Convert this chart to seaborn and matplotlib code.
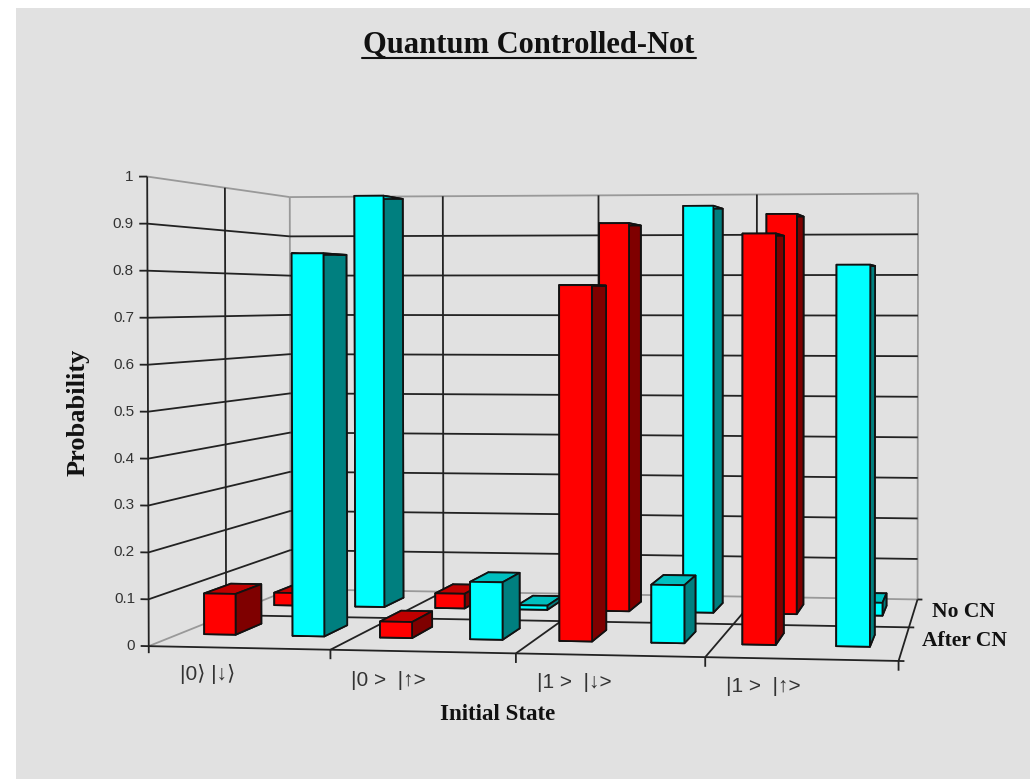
import numpy as np
import matplotlib
matplotlib.use("Agg")
import matplotlib.pyplot as plt
from matplotlib.lines import Line2D
from matplotlib.patches import Rectangle
from mpl_toolkits.mplot3d import proj3d
from mpl_toolkits.mplot3d.art3d import Line3DCollection
import seaborn as sns

# ---------- data ----------
categories = ["|0⟩ |↓⟩", "|0 >  |↑>", "|1 >  |↓>", "|1 >  |↑>"]
rows = ["After CN", "No CN"]
red_after = [0.09, 0.035, 0.77, 0.88]
cyan_after = [0.84, 0.125, 0.125, 0.813]
red_no = [0.03, 0.035, 0.92, 0.94]
cyan_no = [0.988, 0.01, 0.96, 0.03]
z_ticks = [0, 0.1, 0.2, 0.3, 0.4, 0.5, 0.6, 0.7, 0.8, 0.9, 1]

# ---------- style ----------
sns.set_theme(style="white")
BG = "#E1E1E1"
RED = ("#FF0000", "#C00000", "#7F0000")
CYAN = ("#00FFFF", "#00BFBF", "#007F7F")
DARK = "#222222"
GREY = "#999999"
SERIF = "Liberation Serif"
SANS = ["Liberation Sans", "DejaVu Sans"]

# ---------- camera: world (category, row, probability) -> picture ----------
anchors = [((0, 0, 0), (150, 645)), ((1, 0, 0), (331, 650)), ((2, 0, 0), (515, 654)),
           ((3, 0, 0), (705, 658)), ((4, 0, 0), (898, 662)),
           ((0, 2, 0), (290, 590)), ((1, 2, 0), (442, 592)), ((2, 2, 0), (600, 594)),
           ((3, 2, 0), (757, 596)), ((4, 2, 0), (918, 598)),
           ((0, 0, 1), (147, 175)), ((0, 2, 1), (290, 198)),
           ((4, 2, 1), (918, 194))]
A, b = [], []
for (x, y, z), (u, v) in anchors:
    A.append([x, y, z, 1, 0, 0, 0, 0, -u * x, -u * y, -u * z])
    b.append(u)
    A.append([0, 0, 0, 0, x, y, z, 1, -v * x, -v * y, -v * z])
    b.append(v)
p = np.linalg.lstsq(np.array(A, float), np.array(b, float), rcond=None)[0]
M = np.array([[p[0], p[1], p[2], p[3]],
              [p[4], p[5], p[6], p[7]],
              [0, 0, 0, -1.0],
              [p[8], p[9], p[10], 1.0]])

fig = plt.figure(figsize=(10.3, 7.79), dpi=100, facecolor="white")
fig.patches.append(Rectangle((16 / 1030, 0), 1, 771 / 779, transform=fig.transFigure,
                             facecolor=BG, edgecolor="none", zorder=-5))
ax = fig.add_axes([0, 0, 1, 1], projection="3d", computed_zorder=False)
ax.set_xticks([])
ax.set_yticks([])
ax.set_zticks([])
ax.set_axis_off()
for axis in (ax.xaxis, ax.yaxis, ax.zaxis):
    axis.set_visible(False)
ax.patch.set_visible(False)
ax.apply_aspect = lambda *a, **k: None
ax.get_proj = lambda: M
ax.viewLim.intervalx = (0, 1030)
ax.viewLim.intervaly = (779, 0)

dark_segs, grey_segs = [], []


def seg(x, y, z, grey=False):
    (grey_segs if grey else dark_segs).append(list(zip(x, y, z)))


# walls and floor
for t in z_ticks:
    seg([-0.045, 0], [0, 0], [t, t])
    seg([0, 0], [0, 2], [t, t], t == 1 or t == 0)
    seg([0, 4], [2, 2], [t, t], t == 1 or t == 0)
seg([0, 0], [0, 0], [-0.015, 1])
seg([0, 0], [1, 1], [0, 1])
seg([0, 0], [2, 2], [0, 1], True)
seg([4, 4], [2, 2], [0, 1], True)
for i in range(1, 4):
    seg([i, i], [2, 2], [0, 1])
seg([0, 4], [0, 0], [0, 0])
seg([0, 4], [1, 1], [0, 0])
for i in range(1, 5):
    seg([i, i], [0, 2], [0, 0])
for i in range(1, 5):
    seg([i, i], [0, 0], [0, -0.02])
for j in (0, 1, 2):
    seg([4, 4.03], [j, j], [0, 0])
ax.add_collection3d(Line3DCollection(grey_segs, colors=GREY, linewidths=1.3, zorder=1))
ax.add_collection3d(Line3DCollection(dark_segs, colors=DARK, linewidths=1.3, zorder=1))

# bars
BAR_W = 0.18
BAR_D = 0.36
ROW_Y = 0.38
RED_X = 0.14
CYAN_X = 0.645


def bar(i, row, off, h, cols, order):
    ax.bar3d(i + off, row + ROW_Y, 0, BAR_W, BAR_D, h,
             color=[cols[1], cols[1], cols[0], cols[0], cols[2], cols[2]],
             edgecolor="#111111", linewidth=1.3, shade=False, zorder=order)


for i in range(len(categories)):
    base = 2 + 10 * i
    bar(i, 1, RED_X, red_no[i], RED, base)
    bar(i, 1, CYAN_X, cyan_no[i], CYAN, base + 1)
for i in range(len(categories)):
    base = 100 + 10 * i
    bar(i, 0, RED_X, red_after[i], RED, base)
    bar(i, 0, CYAN_X, cyan_after[i], CYAN, base + 1)

# tick labels: the camera gives each label's place on the picture
for t in z_ticks:
    u, v, _ = proj3d.proj_transform(-0.075, 0, t, M)
    fig.text(u / 1030, 1 - v / 779, f"{t:g}", ha="right", va="center", fontsize=11,
             family=SANS, color="#333333")
cat_pos = [(208, 674), (388, 680), (574, 682), (763, 687)]
for lab, (px, py) in zip(categories, cat_pos):
    fig.text(px / 1030, 1 - py / 779, lab, ha="center", va="center", fontsize=15,
             family=SANS, color="#333333")
fig.text(964 / 1030, 1 - 612 / 779, rows[1], ha="center", va="center", fontsize=15.5,
         family=SERIF, weight="bold", color="#111111")
fig.text(965 / 1030, 1 - 641 / 779, rows[0], ha="center", va="center", fontsize=15.5,
         family=SERIF, weight="bold", color="#111111")

# titles
fig.text(529 / 1030, 1 - 45 / 779, "Quantum Controlled-Not", ha="center", va="center",
         fontsize=22, family=SERIF, weight="bold", color="#111111")
fig.add_artist(Line2D([362 / 1030, 696 / 1030], [1 - 58 / 779] * 2, color="#111111", lw=1.5))
fig.text(78 / 1030, 1 - 412 / 779, "Probability", rotation=90, ha="center", va="center",
         fontsize=19, family=SERIF, weight="bold", color="#111111")
fig.text(498 / 1030, 1 - 714 / 779, "Initial State", ha="center", va="center",
         fontsize=16.5, family=SERIF, weight="bold", color="#111111")

fig.savefig("out.png", dpi=100, facecolor=fig.get_facecolor())
